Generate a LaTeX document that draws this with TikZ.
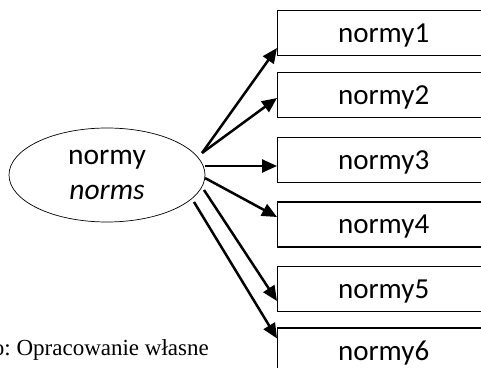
\documentclass[tikz,border=0pt]{standalone}
\usepackage{fontspec}
\setmainfont{Carlito}
\newfontfamily\timesfont{Liberation Serif}
\usetikzlibrary{arrows.meta,shapes.geometric}

\begin{document}
\begin{tikzpicture}[x=1pt,y=1pt,
        normbox/.style={draw,line width=1.3pt,rectangle,anchor=west,minimum width=212pt,minimum height=45pt,inner sep=0pt,text depth=0pt,font=\fontsize{29}{35}\selectfont},
        normarrow/.style={line width=2.5pt,-{Triangle[length=15pt,width=13pt]}}]
            \useasboundingbox (0,0) rectangle (481,367);
            \clip (0,0) rectangle (481,367);
            \node[draw,ellipse,line width=.7pt,minimum width=196pt,minimum height=94pt,inner sep=0pt,align=center,font=\fontsize{29.5}{35}\selectfont] (e) at (107,192) {normy\\\textit{norms}};
            \node[normbox] (b1) at (277,334) {normy1};
            \node[normbox] (b2) at (277,272) {normy2};
            \node[normbox] (b3) at (277,207) {normy3};
            \node[normbox] (b4) at (277,142.5) {normy4};
            \node[normbox] (b5) at (277,78) {normy5};
            \node[normbox] (b6) at (277,16.5) {normy6};
            % start points just off the right side of the ellipse
            \coordinate (s1) at (202,214);
            \coordinate (s3) at (205,201);
            \coordinate (s4) at (205,189);
            \coordinate (s5) at (204,177);
            \coordinate (s6) at (194,165);
            \draw[normarrow] (s1) -- ([yshift=-15pt]b1.west);
            \draw[normarrow] (s1) -- ([yshift=-3pt]b2.west);
            \draw[normarrow] (s3) -- ([yshift=-6pt]b3.west);
            \draw[normarrow] (s4) -- ([yshift=7.5pt]b4.west);
            \draw[normarrow] (s5) -- ([yshift=-12pt]b5.west);
            \draw[normarrow] (s6) -- ([yshift=12pt]b6.west);
            \node[anchor=base east,inner sep=0pt,font=\timesfont\frenchspacing\fontsize{23}{28}\selectfont] (src) at (209,12) {o: Opracowanie własne};
        \end{tikzpicture}
\end{document}
